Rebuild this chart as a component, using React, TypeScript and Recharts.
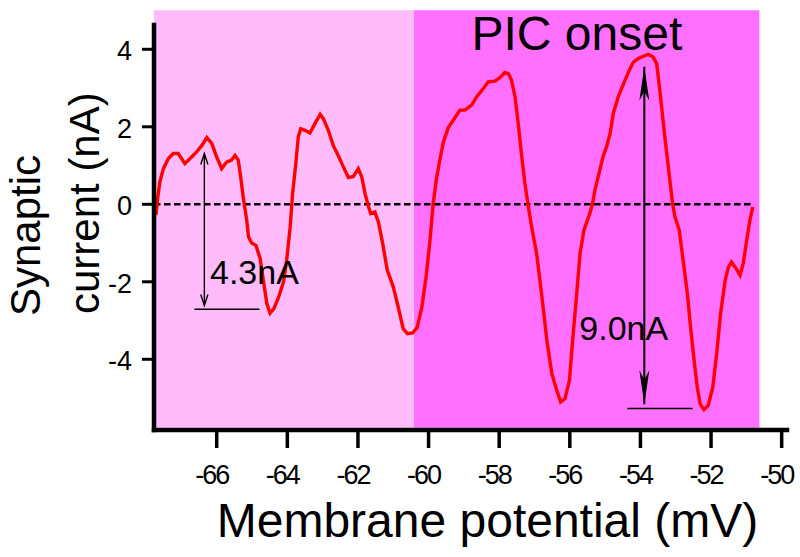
import React from 'react'
import { LineChart, Line, XAxis, YAxis, ReferenceArea, ReferenceLine, ReferenceDot } from 'recharts'

// membrane potential (mV) and synaptic current (nA)
const membranePotential = [
  -67.72, -67.68, -67.61, -67.51, -67.37, -67.23, -67.09, -66.9, -66.71, -66.57,
  -66.42, -66.28, -66.14, -66.0, -65.86, -65.72, -65.58, -65.48, -65.39, -65.32,
  -65.25, -65.15, -65.1, -65.01, -64.89, -64.77, -64.68, -64.58, -64.49, -64.38,
  -64.26, -64.11, -64.02, -63.92, -63.85, -63.76, -63.69, -63.62, -63.5, -63.36,
  -63.22, -63.07, -62.98, -62.84, -62.7, -62.56, -62.41, -62.27, -62.13, -61.99,
  -61.89, -61.8, -61.71, -61.64, -61.52, -61.42, -61.3, -61.17, -61.0, -60.86,
  -60.72, -60.6, -60.45, -60.32, -60.19, -60.07, -59.96, -59.87, -59.77, -59.68,
  -59.58, -59.44, -59.3, -59.11, -58.97, -58.78, -58.64, -58.45, -58.31, -58.12,
  -57.98, -57.84, -57.74, -57.65, -57.55, -57.46, -57.36, -57.27, -57.18, -57.08,
  -56.94, -56.8, -56.65, -56.51, -56.37, -56.26, -56.14, -56.01, -55.92, -55.82,
  -55.71, -55.6, -55.45, -55.36, -55.29, -55.15, -55.05, -54.96, -54.86, -54.77,
  -54.63, -54.48, -54.34, -54.2, -54.06, -53.92, -53.78, -53.64, -53.54, -53.45,
  -53.33, -53.21, -53.09, -53.02, -52.9, -52.79, -52.67, -52.58, -52.48, -52.39,
  -52.31, -52.2, -52.08, -51.95, -51.84, -51.73, -51.6, -51.51, -51.42, -51.29,
  -51.18, -51.09, -50.99, -50.9, -50.82,
]
const synapticCurrent = [
  -0.28, 0.1, 0.58, 0.92, 1.18, 1.31, 1.31, 1.05, 1.22, 1.35,
  1.52, 1.72, 1.57, 1.22, 0.92, 1.09, 1.14, 1.26, 1.14, 0.7,
  0.19, -0.41, -0.84, -1.0, -1.06, -1.4, -1.96, -2.56, -2.81, -2.69,
  -2.43, -2.01, -1.45, -0.59, 0.28, 1.05, 1.74, 1.95, 1.91, 1.84,
  2.08, 2.32, 2.21, 1.91, 1.52, 1.26, 0.96, 0.69, 0.72, 0.92,
  0.7, 0.28, -0.03, -0.24, -0.2, -0.46, -1.01, -1.7, -2.13, -2.65,
  -3.21, -3.34, -3.32, -3.17, -2.65, -1.88, -0.93, 0.02, 0.7, 1.15,
  1.61, 1.98, 2.17, 2.43, 2.43, 2.56, 2.77, 2.99, 3.16, 3.18,
  3.27, 3.4, 3.37, 3.2, 2.77, 2.08, 1.22, 0.53, -0.03, -0.59,
  -1.27, -2.31, -3.51, -4.37, -4.8, -5.1, -5.02, -4.54, -3.51, -2.48,
  -1.27, -0.67, -0.28, 0.0, 0.36, 0.88, 1.26, 1.48, 1.82, 2.34,
  2.77, 3.11, 3.41, 3.67, 3.76, 3.82, 3.87, 3.8, 3.63, 2.94,
  1.91, 0.96, 0.02, -0.33, -0.67, -1.45, -2.31, -3.17, -4.03, -4.72,
  -5.15, -5.3, -5.19, -4.72, -3.85, -2.82, -1.96, -1.62, -1.49, -1.66,
  -1.83, -1.53, -0.93, -0.41, -0.07,
]

const xTicks = [-66, -64, -62, -60, -58, -56, -54, -52, -50]
const yTicks = [-4, -2, 0, 2, 4]
const xDomain = [-67.776, -49.849]
const yDomain = [-5.825, 4.627]

// shaded regions: [from mV, to mV]
const subThreshold = [-67.776, -60.41]
const picRegion = [-60.41, -50.63]
const shadeBottom = -5.77
const shadeTop = 5.01

const zeroLineEnd = -50.85

// annotation arrows: [mV, top nA, bottom nA], baselines: [y nA, from mV, to mV]
const smallArrow = [-66.35, 1.31, -2.61]
const smallBase = [-2.71, -66.63, -64.79]
const bigArrow = [-53.89, 3.55, -5.16]
const bigBase = [-5.27, -54.37, -52.52]

const data = membranePotential.map((mv, i) => ({ mv, current: synapticCurrent[i] }))

const FONT = '"Liberation Sans", Arial, sans-serif'

function arrowShape(kind: 'open' | 'solid') {
  return (p: any) => {
    const { x1, y1, x2, y2 } = p
    const len = Math.hypot(x2 - x1, y2 - y1) || 1
    const ux = (x2 - x1) / len
    const uy = (y2 - y1) / len
    const nx = -uy
    const ny = ux
    const head = (tx: number, ty: number, dx: number, dy: number) => {
      if (kind === 'open') {
        const l = 11
        const w = 3.6
        return (
          <polyline
            points={`${tx - dx * l + nx * w},${ty - dy * l + ny * w} ${tx},${ty} ${tx - dx * l - nx * w},${ty - dy * l - ny * w}`}
            fill="none"
            stroke="#000"
            strokeWidth={1.4}
          />
        )
      }
      const l = 34
      const w = 5
      return (
        <polygon
          points={`${tx},${ty} ${tx - dx * l + nx * w},${ty - dy * l + ny * w} ${tx - dx * l * 0.72},${ty - dy * l * 0.72} ${tx - dx * l - nx * w},${ty - dy * l - ny * w}`}
          fill="#000"
        />
      )
    }
    return (
      <g>
        <line x1={x1} y1={y1} x2={x2} y2={y2} stroke="#000" strokeWidth={kind === 'open' ? 1.4 : 2} />
        {head(x1, y1, -ux, -uy)}
        {head(x2, y2, ux, uy)}
      </g>
    )
  }
}

function textShape(label: string, size: number, anchor: 'start' | 'middle') {
  return (p: any) => (
    <text x={p.cx} y={p.cy} fontSize={size} fontFamily={FONT} fill="#000" textAnchor={anchor}>
      {label}
    </text>
  )
}

const XTick = (p: any) => (
  <text
    x={p.x - 5}
    y={p.y + 36}
    textAnchor="middle"
    fontSize={27}
    fontFamily={FONT}
    fill="#000"
    style={{ letterSpacing: '-2px' }}
  >
    {p.payload.value}
  </text>
)

const YTick = (p: any) => (
  <text x={132} y={p.y + 11} textAnchor="end" fontSize={27} fontFamily={FONT} fill="#000">
    {String(p.payload.value)}
  </text>
)

export default function App() {
  return (
    <div style={{ position: 'absolute', left: 0, top: 0, width: 800, height: 557, background: '#fff' }}>
      <LineChart width={800} height={557} data={data} margin={{ top: 25, right: 13, bottom: 17, left: 0 }}>
        <ReferenceArea
          x1={subThreshold[0]}
          x2={subThreshold[1]}
          y1={shadeBottom}
          y2={shadeTop}
          fill="#ffbbfa"
          fillOpacity={1}
          stroke="none"
          ifOverflow="visible"
        />
        <ReferenceArea
          x1={picRegion[0]}
          x2={picRegion[1]}
          y1={shadeBottom}
          y2={shadeTop}
          fill="#ff70ff"
          fillOpacity={1}
          stroke="none"
          ifOverflow="visible"
        />
        <XAxis
          type="number"
          dataKey="mv"
          domain={xDomain}
          ticks={xTicks}
          allowDataOverflow
          height={110}
          tickSize={18}
          tickMargin={0}
          axisLine={{ stroke: '#000', strokeWidth: 4.5, strokeLinecap: 'square' }}
          tickLine={{ stroke: '#000', strokeWidth: 3.5 }}
          tick={XTick}
          label={{
            content: ({ viewBox }: any) => (
              <text
                x={viewBox.x + viewBox.width / 2 + 17}
                y={viewBox.y + 107}
                textAnchor="middle"
                fontSize={48}
                fontFamily={FONT}
                fill="#000"
              >
                Membrane potential (mV)
              </text>
            ),
          }}
        />
        <YAxis
          type="number"
          domain={yDomain}
          ticks={yTicks}
          allowDataOverflow
          width={154}
          tickSize={12}
          tickMargin={10}
          axisLine={{ stroke: '#000', strokeWidth: 4.5, strokeLinecap: 'square' }}
          tickLine={{ stroke: '#000', strokeWidth: 3 }}
          tick={YTick}
          label={{
            content: () => (
              <g fontSize={42} fontFamily={FONT} fill="#000">
                <text x={40} y={316} transform="rotate(-90 40 316)">
                  Synaptic
                </text>
                <text x={99} y={314} transform="rotate(-90 99 314)">
                  current (nA)
                </text>
              </g>
            ),
          }}
        />
        <ReferenceLine
          segment={[
            { x: xDomain[0], y: 0 },
            { x: zeroLineEnd, y: 0 },
          ]}
          stroke="#000"
          strokeWidth={2.6}
          strokeDasharray="6.5 3.5"
          ifOverflow="visible"
        />
        <Line
          type="linear"
          dataKey="current"
          stroke="#ff0000"
          strokeWidth={3.4}
          dot={false}
          isAnimationActive={false}
        />
        <ReferenceLine
          segment={[
            { x: smallArrow[0], y: smallArrow[1] },
            { x: smallArrow[0], y: smallArrow[2] },
          ]}
          shape={arrowShape('open')}
          ifOverflow="visible"
        />
        <ReferenceLine
          segment={[
            { x: smallBase[1], y: smallBase[0] },
            { x: smallBase[2], y: smallBase[0] },
          ]}
          stroke="#000"
          strokeWidth={1.5}
          ifOverflow="visible"
        />
        <ReferenceLine
          segment={[
            { x: bigArrow[0], y: bigArrow[1] },
            { x: bigArrow[0], y: bigArrow[2] },
          ]}
          shape={arrowShape('solid')}
          ifOverflow="visible"
        />
        <ReferenceLine
          segment={[
            { x: bigBase[1], y: bigBase[0] },
            { x: bigBase[2], y: bigBase[0] },
          ]}
          stroke="#000"
          strokeWidth={1.5}
          ifOverflow="visible"
        />
        <ReferenceDot x={-66.19} y={-2.05} r={0} ifOverflow="visible" shape={textShape('4.3nA', 34, 'start')} />
        <ReferenceDot x={-55.73} y={-3.5} r={0} ifOverflow="visible" shape={textShape('9.0nA', 34, 'start')} />
        <ReferenceDot x={-55.8} y={3.975} r={0} ifOverflow="visible" shape={textShape('PIC onset', 48, 'middle')} />
      </LineChart>
    </div>
  )
}
